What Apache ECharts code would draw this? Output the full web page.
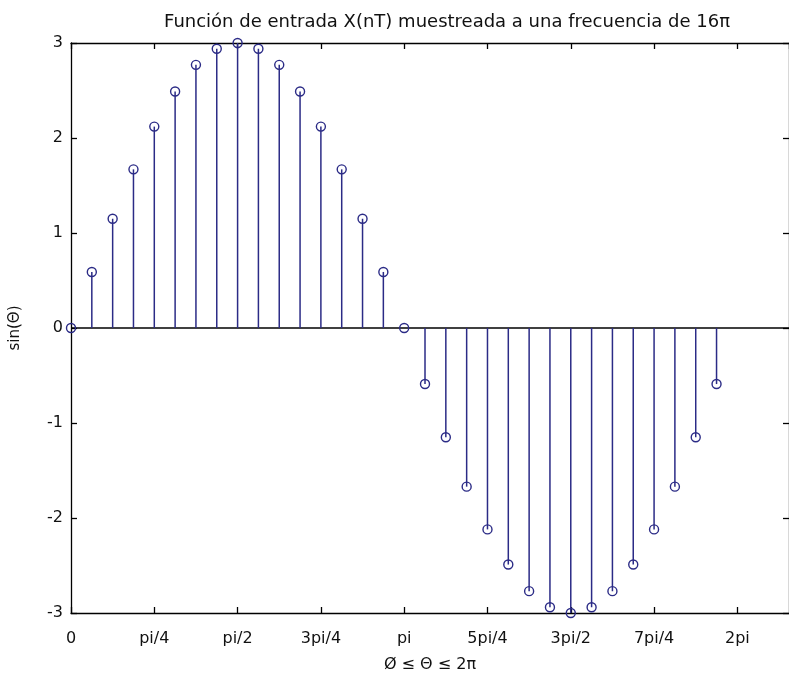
<!DOCTYPE html>
<html>
<head>
<meta charset="utf-8">
<script src="https://cdn.jsdelivr.net/npm/echarts@6/dist/echarts.min.js"></script>
<style>
  html, body { margin: 0; padding: 0; background: #ffffff; }
  #chart { width: 789px; height: 681px; }
</style>
</head>
<body>
<div id="chart"></div>
<script>
// Sample angles theta_n (rad), n = 0..31, step pi/16
const thetas = [
  0.0000, 0.1963, 0.3927, 0.5890, 0.7854, 0.9817, 1.1781, 1.3744,
  1.5708, 1.7671, 1.9635, 2.1598, 2.3562, 2.5525, 2.7489, 2.9452,
  3.1416, 3.3379, 3.5343, 3.7306, 3.9270, 4.1233, 4.3197, 4.5160,
  4.7124, 4.9087, 5.1051, 5.3014, 5.4978, 5.6941, 5.8905, 6.0868
];
// Sampled amplitude X(nT)
const samples = [
  0.00, 0.59, 1.15, 1.67, 2.12, 2.49, 2.77, 2.94,
  3.00, 2.94, 2.77, 2.49, 2.12, 1.67, 1.15, 0.59,
  0.00, -0.59, -1.15, -1.67, -2.12, -2.49, -2.77, -2.94,
  -3.00, -2.94, -2.77, -2.49, -2.12, -1.67, -1.15, -0.59
];
// Tick labels at multiples of pi/4
const xTickLabels = ['0', 'pi/4', 'pi/2', '3pi/4', 'pi', '5pi/4', '3pi/2', '7pi/4', '2pi'];
const yTicks = [-3, -2, -1, 0, 1, 2, 3];

const titleText = 'Función de entrada X(nT) muestreada a una frecuencia de 16\u03c0';
const xName = '\u00d8 \u2264 \u0398 \u2264 2\u03c0';
const yName = 'sin(\u0398)';

const points = thetas.map((t, i) => [t, samples[i]]);
const STEP = Math.PI / 4;
const XMAX = 6.77;
const stemColor = '#2b2b86';
const font = 'DejaVu Sans';

function xLabel(v) {
  const k = Math.round(v / STEP);
  if (Math.abs(v - k * STEP) > 1e-6) return '';
  return xTickLabels[k] !== undefined ? xTickLabels[k] : '';
}

const chart = echarts.init(document.getElementById('chart'), null, { renderer: 'canvas' });

const axisLine = { show: true, onZero: false, lineStyle: { color: '#000', width: 1.3 } };
const tick = { show: true, inside: true, length: 6, lineStyle: { color: '#000', width: 1.3 } };

chart.setOption({
  backgroundColor: '#ffffff',
  animation: false,
  title: {
    text: titleText,
    left: 442, top: 8, textAlign: 'center',
    textStyle: { fontFamily: font, fontSize: 18, fontWeight: 'normal', color: '#111' }
  },
  grid: { left: 70, top: 43, right: -3, bottom: 68, containLabel: false },
  xAxis: [{
    type: 'value', min: 0, max: XMAX, interval: STEP, position: 'bottom',
    name: xName, nameLocation: 'middle', nameGap: 44,
    nameTextStyle: { fontFamily: font, fontSize: 16, color: '#111' },
    axisLine: axisLine, axisTick: tick, splitLine: { show: false },
    axisLabel: { formatter: xLabel, margin: 18, fontFamily: font, fontSize: 16, color: '#111', showMaxLabel: false }
  }, {
    type: 'value', min: 0, max: XMAX, interval: STEP, position: 'top',
    axisLine: axisLine, axisTick: tick, splitLine: { show: false },
    axisLabel: { show: false }
  }],
  yAxis: [{
    type: 'value', min: -3, max: 3, interval: 1, position: 'left',
    name: yName, nameLocation: 'middle', nameGap: 48, nameRotate: 90,
    nameTextStyle: { fontFamily: font, fontSize: 15, color: '#111' },
    axisLine: axisLine, axisTick: tick, splitLine: { show: false },
    axisLabel: { margin: 8, fontFamily: font, fontSize: 16, color: '#111',
      formatter: v => (yTicks.indexOf(v) >= 0 ? String(v) : '') }
  }, {
    type: 'value', min: -3, max: 3, interval: 1, position: 'right',
    axisLine: axisLine, axisTick: tick, splitLine: { show: false },
    axisLabel: { show: false }
  }],
  series: [
    {
      // baseline at zero
      type: 'line', data: [[0, 0], [XMAX, 0]], symbol: 'none', silent: true,
      lineStyle: { color: '#000', width: 1.3 }, z: 1
    },
    {
      // stems from baseline to each sample
      type: 'custom', data: points, z: 2, silent: true,
      renderItem: function (params, api) {
        const p0 = api.coord([api.value(0), 0]);
        const p1 = api.coord([api.value(0), api.value(1)]);
        return {
          type: 'line',
          shape: { x1: p0[0], y1: p0[1], x2: p1[0], y2: p1[1] },
          style: { stroke: stemColor, lineWidth: 1.5 }
        };
      }
    },
    {
      // hollow circle markers, stem visible inside
      type: 'scatter', data: points, symbol: 'circle', symbolSize: 9, z: 3,
      itemStyle: { color: 'rgba(0,0,0,0)', borderColor: stemColor, borderWidth: 1.4, opacity: 1 }
    }
  ]
});
</script>
</body>
</html>
